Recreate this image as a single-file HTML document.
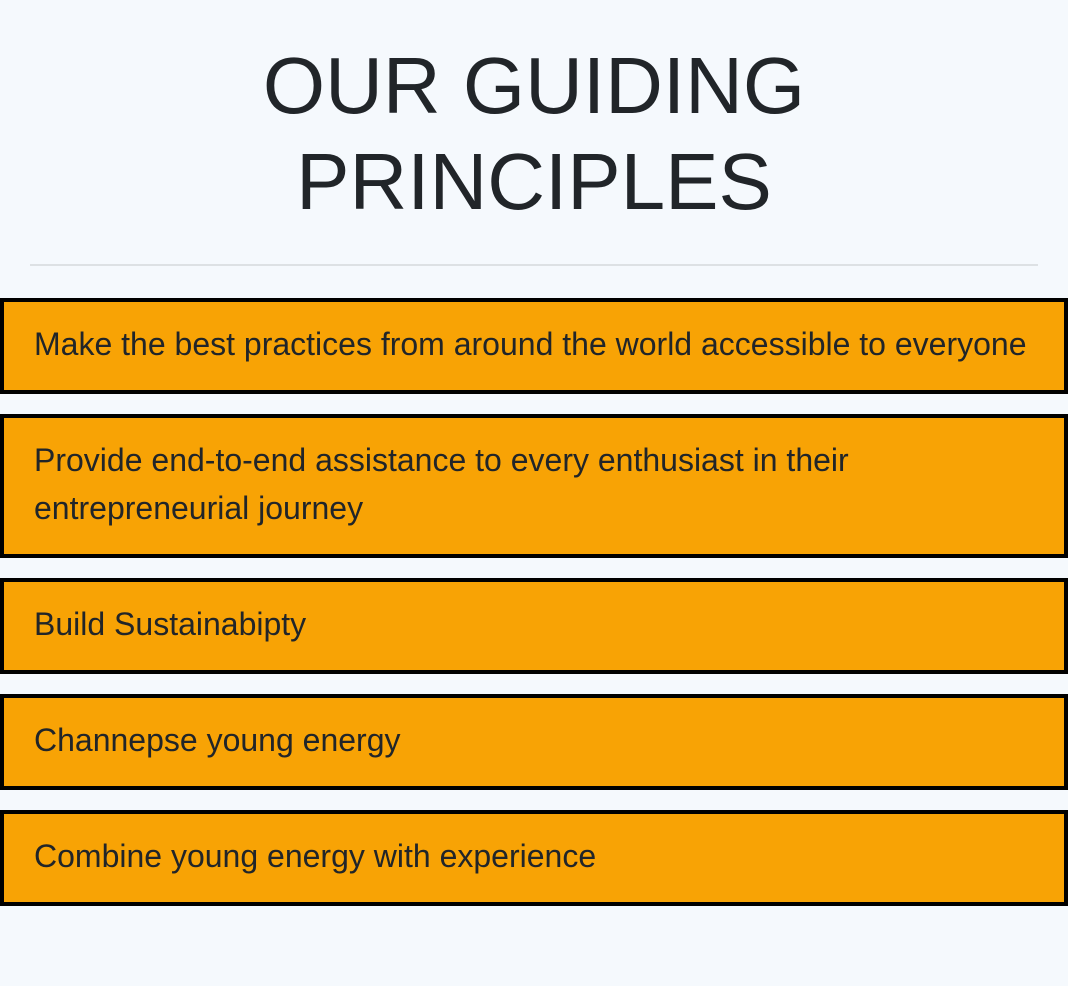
<!DOCTYPE html>
<html><head><meta charset="utf-8"><style>
html,body{margin:0;padding:0;background:#f5f9fd;width:1068px;height:986px;overflow:hidden;font-family:"Liberation Sans",Arial,sans-serif;color:#212529}
h1{margin:0;position:absolute;top:38px;left:0;width:1068px;text-align:center;font-weight:400;font-size:80px;line-height:96px}
.hr{position:absolute;left:30px;top:264px;width:1008px;height:2px;background:#dde1e4}
.box{position:absolute;left:0;width:1068px;box-sizing:border-box;border:4px solid #000;background:#f8a305;padding:18px 30px 22px;font-size:32px;line-height:48px}
</style></head><body>
<h1>OUR GUIDING<br>PRINCIPLES</h1>
<div class="hr"></div>
<div class="box" style="top:298px;height:96px">Make the best practices from around the world accessible to everyone</div>
<div class="box" style="top:414px;height:144px">Provide end-to-end assistance to every enthusiast in their entrepreneurial journey</div>
<div class="box" style="top:578px;height:96px">Build Sustainabipty</div>
<div class="box" style="top:694px;height:96px">Channepse young energy</div>
<div class="box" style="top:810px;height:96px">Combine young energy with experience</div>
</body></html>
